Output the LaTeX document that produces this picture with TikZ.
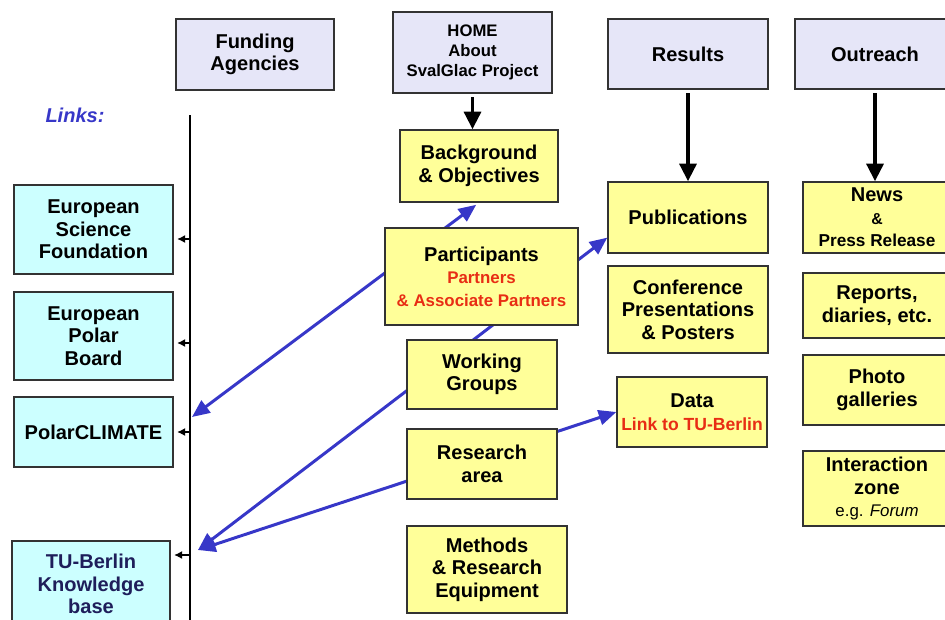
\documentclass[tikz,border=0pt]{standalone}
\usepackage{fontspec}
\setmainfont{Liberation Sans}
\usepackage{xcolor}
\usetikzlibrary{arrows.meta}

\definecolor{menulav}{RGB}{230,230,248}
\definecolor{pageyellow}{RGB}{255,255,153}
\definecolor{linkcyan}{RGB}{204,255,255}
\definecolor{arrowblue}{RGB}{55,55,200}
\definecolor{redtext}{RGB}{232,45,20}
\definecolor{navytext}{RGB}{30,30,90}

\begin{document}
\begin{tikzpicture}[x=0.02cm, y=-0.02cm,
	box/.style={draw=black!80, line width=0.8pt, rectangle, align=center, inner sep=1pt, font=\bfseries\fontsize{11.4}{12.8}\selectfont},
	topbox/.style={box, fill=menulav, minimum width=3.2cm, minimum height=1.4cm},
	pagebox/.style={box, fill=pageyellow},
	linkbox/.style={box, fill=linkcyan, minimum width=3.18cm},
	down/.style={-{Triangle[length=10pt,width=9.5pt]}, line width=2.2pt, shorten <=2pt},
	weblink/.style={{Triangle[length=10pt,width=8.5pt]}-{Triangle[length=10pt,width=8.5pt]}, line width=1.7pt, draw=arrowblue},
	tick/.style={-{Latex[length=4.5pt,width=4.5pt]}, line width=0.6pt, shorten >=2pt}]
			\clip (0,0) rectangle (945,619);

			% menu row
			\node[topbox, minimum width=3.16cm, minimum height=1.42cm] (fund) at (255,54.5) {Funding\\Agencies};
			\node[topbox, minimum width=3.18cm, minimum height=1.62cm, font=\bfseries\fontsize{9.5}{11.4}\selectfont] (home) at (472.5,52.5) {HOME\\About\\SvalGlac Project};
			\node[topbox] (res) at (688,54) {Results};
			\node[topbox] (out) at (875,54) {Outreach};

			% links column
			\node[text=arrowblue, font=\bfseries\itshape\fontsize{11.4}{12.8}\selectfont] (links) at (75,115) {Links:};
			\node[linkbox, minimum height=1.78cm] (esf) at (93.5,229.5) {European\\Science\\Foundation};
			\node[linkbox, minimum height=1.76cm] (epb) at (93.5,336) {European\\Polar\\Board};
			\node[linkbox, minimum height=1.4cm] (pc) at (93.5,432) {PolarCLIMATE};
			\node[linkbox, minimum width=3.16cm, minimum height=1.72cm, text=navytext] (tub) at (91,584) {TU-Berlin\\Knowledge\\base};

			\coordinate (ltop) at (190,115);
			\coordinate (lbot) at (190,625);
			\draw[line width=0.6pt] (ltop) -- (lbot);
			\coordinate (l1) at (190,239);
			\coordinate (l2) at (190,343);
			\coordinate (l3) at (190,432);
			\coordinate (l4) at (190,555);
			\draw[tick] (l1) -- (l1 -| esf.east);
			\draw[tick] (l2) -- (l2 -| epb.east);
			\draw[tick] (l3) -- (l3 -| pc.east);
			\draw[tick] (l4) -- (l4 -| tub.east);

			% pages
			\node[pagebox, minimum width=3.16cm, minimum height=1.44cm] (bg) at (479,166) {Background\\\& Objectives};
			\node[pagebox, minimum width=3.2cm, minimum height=1.74cm] (meth) at (487,569.5) {Methods\\\& Research\\Equipment};
			\node[pagebox, minimum width=3.2cm, minimum height=1.42cm] (pub) at (688,217.5) {Publications};
			\node[pagebox, minimum width=3.2cm, minimum height=1.74cm] (conf) at (688,309.5) {Conference\\Presentations\\\& Posters};
			\node[pagebox, minimum width=3cm, minimum height=1.4cm] (data) at (692,412) {Data\\{\color{redtext}\fontsize{10}{11.4}\selectfont Link to TU-Berlin}};
			\node[pagebox, minimum width=2.96cm, minimum height=1.42cm] (news) at (877,217.5) {News\\{\fontsize{9}{10}\selectfont\&}\\{\fontsize{9.8}{11}\selectfont Press Release}};
			\node[pagebox, minimum width=2.96cm, minimum height=1.3cm] (rep) at (877,305.5) {Reports,\\diaries, etc.};
			\node[pagebox, minimum width=2.96cm, minimum height=1.4cm] (photo) at (877,390) {Photo\\galleries};
			\node[pagebox, minimum width=2.96cm, minimum height=1.5cm] (inter) at (877,488.5) {Interaction\\zone\\{\mdseries\fontsize{9.6}{11}\selectfont e.g. \textit{Forum}}};

			\draw[down] (home.south) -- (home.south |- bg.north);
			\draw[down] (res.south) -- (pub.north);
			\draw[down] (out.south) -- (out.south |- news.north);

			% blue links, drawn before the boxes that cover them
			\coordinate (pctip) at (192,417);
			\coordinate (tubtip) at (198,550);
			\draw[weblink, shorten >=2pt] (pctip) -- (bg.south);
			\draw[weblink] (tubtip) -- (pub.194);
			\draw[weblink] (tubtip) -- (data.west);

			\node[pagebox, minimum width=3.86cm, minimum height=1.94cm] (part) at (481.5,276.5) {Participants\\{\color{redtext}\fontsize{9.6}{11.4}\selectfont Partners}\\{\color{redtext}\fontsize{9.6}{11.4}\selectfont\& Associate Partners}};
			\node[pagebox, minimum width=3cm, minimum height=1.38cm] (wg) at (482,374.5) {Working\\Groups};
			\node[pagebox, minimum width=3cm, minimum height=1.4cm] (ra) at (482,464) {Research\\area};
		\end{tikzpicture}
\end{document}
